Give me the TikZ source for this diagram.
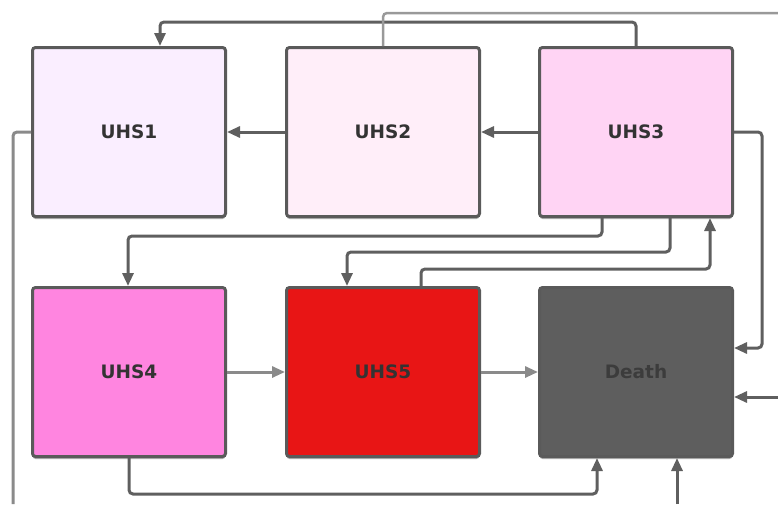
\documentclass[tikz,border=0pt]{standalone}
\usepackage{fontspec}
\setmainfont{DejaVu Sans}
\usetikzlibrary{arrows.meta,shadows}
\definecolor{lineC}{HTML}{5F5F5F}
\definecolor{lightC}{HTML}{8A8A8A}
\definecolor{bordC}{HTML}{5A5A5A}
\definecolor{cA}{HTML}{FAEEFF}
\definecolor{cB}{HTML}{FFEEF9}
\definecolor{cC}{HTML}{FFD4F4}
\definecolor{cD}{HTML}{FF85E0}
\definecolor{cE}{HTML}{E81515}
\definecolor{cF}{HTML}{5E5E5E}
\definecolor{txtC}{HTML}{333333}
\definecolor{txtD}{HTML}{3C3C3C}
\tikzset{
  box/.style={draw=bordC, line width=3pt, rounded corners=3pt, minimum width=193pt, minimum height=169pt,
    font=\fontsize{18.5}{22}\selectfont\bfseries, text=txtC,
    drop shadow={shadow xshift=0pt, shadow yshift=-2.5pt, fill=black!30, opacity=1}},
  conn/.style={draw=lineC, line width=3pt, rounded corners=4pt},
  lconn/.style={draw=lightC, line width=3pt, rounded corners=4pt},
  tip/.style={-{Triangle[length=13pt,width=11pt]}}
}
\begin{document}
\begin{tikzpicture}[x=1pt,y=-1pt]
\useasboundingbox (0,0) rectangle (778,504);
\node[box, fill=cA] (u1) at (129,132) {UHS1};
\node[box, fill=cB] (u2) at (383,132) {UHS2};
\node[box, fill=cC] (u3) at (636,132) {UHS3};
\node[box, fill=cD] (u4) at (129,372) {UHS4};
\node[box, fill=cE] (u5) at (383,372) {UHS5};
\node[box, fill=cF, text=txtD] (d) at (636,372) {Death};
\coordinate (a1) at (160,22);
\coordinate (a2) at (778,13);
\coordinate (a3) at (762,348);
\coordinate (a4) at (778,397);
\coordinate (a5) at (13,504);
\coordinate (a6) at (602,236);
\coordinate (a6b) at (128,236);
\coordinate (a7) at (670,252);
\coordinate (a7b) at (347,252);
\coordinate (a8) at (421,269);
\coordinate (a8b) at (710,269);
\coordinate (a9) at (129,494);
\coordinate (a9b) at (597,494);
\coordinate (a10) at (677,504);
% top loops
\draw[conn,tip] (u3.north) |- (a1) -- (a1 |- u1.north);
\draw[lconn, draw=gray!80, line width=2.5pt] (u2.north) |- (a2);
% horizontal row 1
\draw[conn,tip] (u2.west) -- (u1.east);
\draw[conn,tip] (u3.west) -- (u2.east);
% right side
\draw[conn,tip] (u3.east) -| (a3) -- (a3 -| d.east);
\draw[conn,tip] (a4) -- (a4 -| d.east);
% left side
\draw[lconn] (u1.west) -| (a5);
% middle connectors
\draw[conn,tip] (a6 |- u3.south) |- (a6b) -- (a6b |- u4.north);
\draw[conn,tip] (a7 |- u3.south) |- (a7b) -- (a7b |- u5.north);
\draw[conn,tip] (a8 |- u5.north) |- (a8b) -- (a8b |- u3.south);
% row 2 horizontals
\draw[lconn,tip] (u4.east) -- (u5.west);
\draw[lconn,tip] (u5.east) -- (d.west);
% bottom
\draw[conn,tip] (a9 |- u4.south) |- (a9b) -- (a9b |- d.south);
\draw[conn,tip] (a10) -- (a10 |- d.south);
\end{tikzpicture}
\end{document}
